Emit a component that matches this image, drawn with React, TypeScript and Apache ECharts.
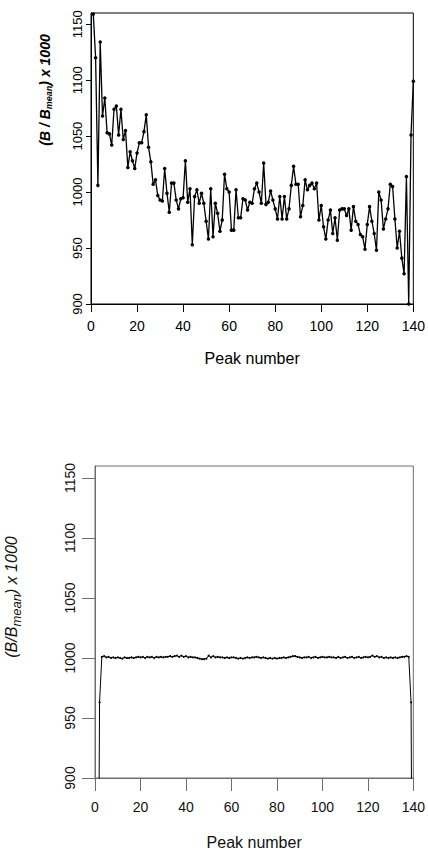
import React, { useEffect, useRef } from "react";
import * as echarts from "echarts";

// Peak numbers 1..140
const peakNumbers: number[] = [
  1, 2, 3, 4, 5, 6, 7, 8, 9, 10, 11, 12, 13, 14, 15, 16, 17, 18, 19, 20,
  21, 22, 23, 24, 25, 26, 27, 28, 29, 30, 31, 32, 33, 34, 35, 36, 37, 38, 39, 40,
  41, 42, 43, 44, 45, 46, 47, 48, 49, 50, 51, 52, 53, 54, 55, 56, 57, 58, 59, 60,
  61, 62, 63, 64, 65, 66, 67, 68, 69, 70, 71, 72, 73, 74, 75, 76, 77, 78, 79, 80,
  81, 82, 83, 84, 85, 86, 87, 88, 89, 90, 91, 92, 93, 94, 95, 96, 97, 98, 99, 100,
  101, 102, 103, 104, 105, 106, 107, 108, 109, 110, 111, 112, 113, 114, 115, 116, 117, 118, 119, 120,
  121, 122, 123, 124, 125, 126, 127, 128, 129, 130, 131, 132, 133, 134, 135, 136, 137, 138, 139, 140,
];

// Top panel: (B / Bmean) x 1000, raw
const topValues: number[] = [
  1159, 1120, 1006, 1134, 1068, 1084, 1053, 1052, 1042, 1074,
  1077, 1051, 1074, 1047, 1055, 1022, 1036, 1028, 1021, 1035,
  1044, 1044, 1054, 1069, 1040, 1027, 1007, 1011, 997, 993,
  992, 1021, 999, 982, 1008, 1008, 993, 985, 994, 995,
  1028, 991, 1003, 953, 996, 1002, 990, 999, 990, 974,
  958, 1003, 960, 990, 981, 965, 975, 1016, 1003, 1000,
  966, 966, 1002, 977, 977, 994, 993, 984, 991, 990,
  1003, 1008, 1000, 990, 1026, 989, 991, 1001, 993, 985,
  976, 996, 976, 996, 976, 985, 1006, 1023, 1007, 1007,
  978, 988, 1011, 1002, 1006, 1008, 1003, 1008, 975, 988,
  969, 958, 975, 984, 963, 977, 957, 984, 985, 985,
  979, 985, 966, 987, 974, 971, 962, 960, 949, 971,
  987, 974, 963, 948, 1000, 993, 967, 976, 985, 1007,
  1005, 976, 950, 965, 941, 927, 1014, 900, 1051, 1099,
];

// Bottom panel: (B/Bmean) x 1000, corrected
const bottomValues: number[] = [
  600, 963,
  1001, 1001.5, 1000.5, 1001, 1000, 1000.5, 1000, 1000.5, 1000, 999.5,
  1000.5, 1000, 1000, 1000.5, 1000, 1000.5, 1001, 1000.5, 1001, 1000,
  1001, 1000.5, 1001, 1000, 1001, 1000.5, 1001, 1000.5, 1001, 1001,
  1001.5, 1001, 1001.5, 1002, 1001, 1002, 1001, 1001.5, 1000.5, 1001,
  1000.5, 1000.5, 1000, 999.5, 999, 999, 999.5, 1002, 1000.5, 1001.5,
  1000.5, 1001, 1000.5, 1000.5, 1000, 1000.5, 1000, 1000.5, 1000.5, 1000,
  999.5, 1000, 999.5, 1000, 1000.5, 1000, 1000.5, 1000.5, 1001, 1000.5,
  1000, 1000.5, 1000, 999.5, 1000, 999.5, 1000, 999.5, 1000, 1000,
  1000.5, 1000, 1000.5, 1001, 1001.5, 1001.5, 1001, 1000.5, 1000, 1000.5,
  1000.5, 1001, 1000, 1000.5, 1001, 1000, 1000.5, 1001, 1000.5, 1000.5,
  1001, 1000.5, 1000.5, 1000, 1001, 1000, 1000.5, 1001, 1000, 1000.5,
  1001, 1000, 1000.5, 1001, 1000, 1000.5, 1001, 1000.5, 1001, 1002,
  1001, 1001.5, 1000.5, 1001, 1000, 1000.5, 1000, 1000.5, 1000, 1000.5,
  1000, 1000.5, 1001, 1001, 1001.5, 1001,
  963, 600,
];

const xTicks: number[] = [0, 20, 40, 60, 80, 100, 120, 140];
const yTicks: number[] = [900, 950, 1000, 1050, 1100, 1150];

const FONT = "'Liberation Sans', Arial, Helvetica, sans-serif";
const plain = (v: number) => String(v);

export default function App() {
  const ref = useRef<HTMLDivElement>(null);

  useEffect(() => {
    if (!ref.current) return;
    const chart = echarts.init(ref.current, undefined, { renderer: "svg" });

    const topData = peakNumbers.map((p, i) => [p, topValues[i]]);
    const bottomData = peakNumbers.map((p, i) => [p, bottomValues[i]]);

    const black = "#000";
    const gray = "#6e6e6e";

    const option: echarts.EChartsOption = {
      animation: false,
      backgroundColor: "#fff",
      grid: [
        {
          left: 91,
          right: 14,
          top: 13,
          bottom: 549,
          show: true,
          borderColor: black,
          borderWidth: 1,
          backgroundColor: "transparent",
        },
        {
          left: 95,
          right: 10,
          top: 466,
          bottom: 75,
          show: true,
          borderColor: gray,
          borderWidth: 1,
          backgroundColor: "transparent",
        },
      ],
      xAxis: [
        {
          type: "value",
          gridIndex: 0,
          min: 0,
          max: 140,
          interval: 20,
          name: "Peak number",
          nameLocation: "middle",
          nameGap: 46,
          nameTextStyle: { fontFamily: FONT, fontSize: 16, color: black },
          axisLine: { show: true, onZero: false, lineStyle: { color: black, width: 1 } },
          axisTick: { show: true, length: 8, lineStyle: { color: black } },
          axisLabel: { fontFamily: FONT, fontSize: 14, color: black, margin: 15, customValues: xTicks, formatter: plain },
          splitLine: { show: false },
        },
        {
          type: "value",
          gridIndex: 1,
          min: 0,
          max: 140,
          interval: 20,
          name: "Peak number",
          nameLocation: "middle",
          nameGap: 56,
          nameTextStyle: { fontFamily: FONT, fontSize: 16, color: "#111" },
          axisLine: { show: true, onZero: false, lineStyle: { color: gray, width: 1 } },
          axisTick: { show: true, length: 13, lineStyle: { color: gray } },
          axisLabel: { fontFamily: FONT, fontSize: 14, color: "#111", margin: 22, customValues: xTicks, formatter: plain },
          splitLine: { show: false },
        },
      ],
      yAxis: [
        {
          type: "value",
          gridIndex: 0,
          min: 900,
          max: 1160,
          interval: 50,
          axisLine: { show: true, onZero: false, lineStyle: { color: black, width: 1 } },
          axisTick: { show: true, length: 5, lineStyle: { color: black }, customValues: yTicks },
          axisLabel: {
            fontFamily: FONT,
            fontSize: 13,
            color: black,
            rotate: 90,
            margin: 7,
            customValues: yTicks,
            formatter: plain,
          },
          splitLine: { show: false },
        },
        {
          type: "value",
          gridIndex: 1,
          min: 900,
          max: 1160,
          interval: 50,
          axisLine: { show: true, onZero: false, lineStyle: { color: gray, width: 1 } },
          axisTick: { show: true, length: 13, lineStyle: { color: gray }, customValues: yTicks },
          axisLabel: {
            fontFamily: FONT,
            fontSize: 14,
            color: "#111",
            rotate: 90,
            margin: 18,
            customValues: yTicks,
            formatter: plain,
          },
          splitLine: { show: false },
        },
      ],
      graphic: [
        {
          type: "text",
          x: 45,
          y: 90,
          rotation: Math.PI / 2,
          style: {
            text: "{a|(B / B}{s|mean}{a|) x 1000}",
            align: "center",
            verticalAlign: "middle",
            fill: black,
            rich: {
              a: { fontFamily: FONT, fontSize: 14, fontWeight: "bold", fontStyle: "italic", fill: black },
              s: {
                fontFamily: FONT,
                fontSize: 9,
                fontWeight: "bold",
                fontStyle: "italic",
                fill: black,
                padding: [8, 0, 0, 0],
              },
            },
          },
        },
        {
          type: "text",
          x: 11,
          y: 597,
          rotation: Math.PI / 2,
          style: {
            text: "{a|(B/B}{s|mean}{a|) x 1000}",
            align: "center",
            verticalAlign: "middle",
            fill: "#111",
            rich: {
              a: { fontFamily: FONT, fontSize: 16, fontStyle: "italic", fill: "#111" },
              s: { fontFamily: FONT, fontSize: 13, fontStyle: "italic", fill: "#111", padding: [11, 0, 0, 0] },
            },
          },
        },
      ],
      series: [
        {
          type: "line",
          xAxisIndex: 0,
          yAxisIndex: 0,
          data: topData,
          clip: true,
          symbol: "circle",
          symbolSize: 3.5,
          showSymbol: true,
          lineStyle: { color: black, width: 1.3 },
          itemStyle: { color: black },
          emphasis: { disabled: true },
        },
        {
          type: "line",
          xAxisIndex: 1,
          yAxisIndex: 1,
          data: bottomData,
          clip: true,
          symbol: "circle",
          symbolSize: 2,
          showSymbol: true,
          lineStyle: { color: black, width: 1 },
          itemStyle: { color: black },
          emphasis: { disabled: true },
        },
      ],
    };

    chart.setOption(option);
    return () => {
      chart.dispose();
    };
  }, []);

  return (
    <div
      ref={ref}
      style={{ position: "absolute", left: 0, top: 0, width: 428, height: 853, background: "#fff" }}
    />
  );
}
